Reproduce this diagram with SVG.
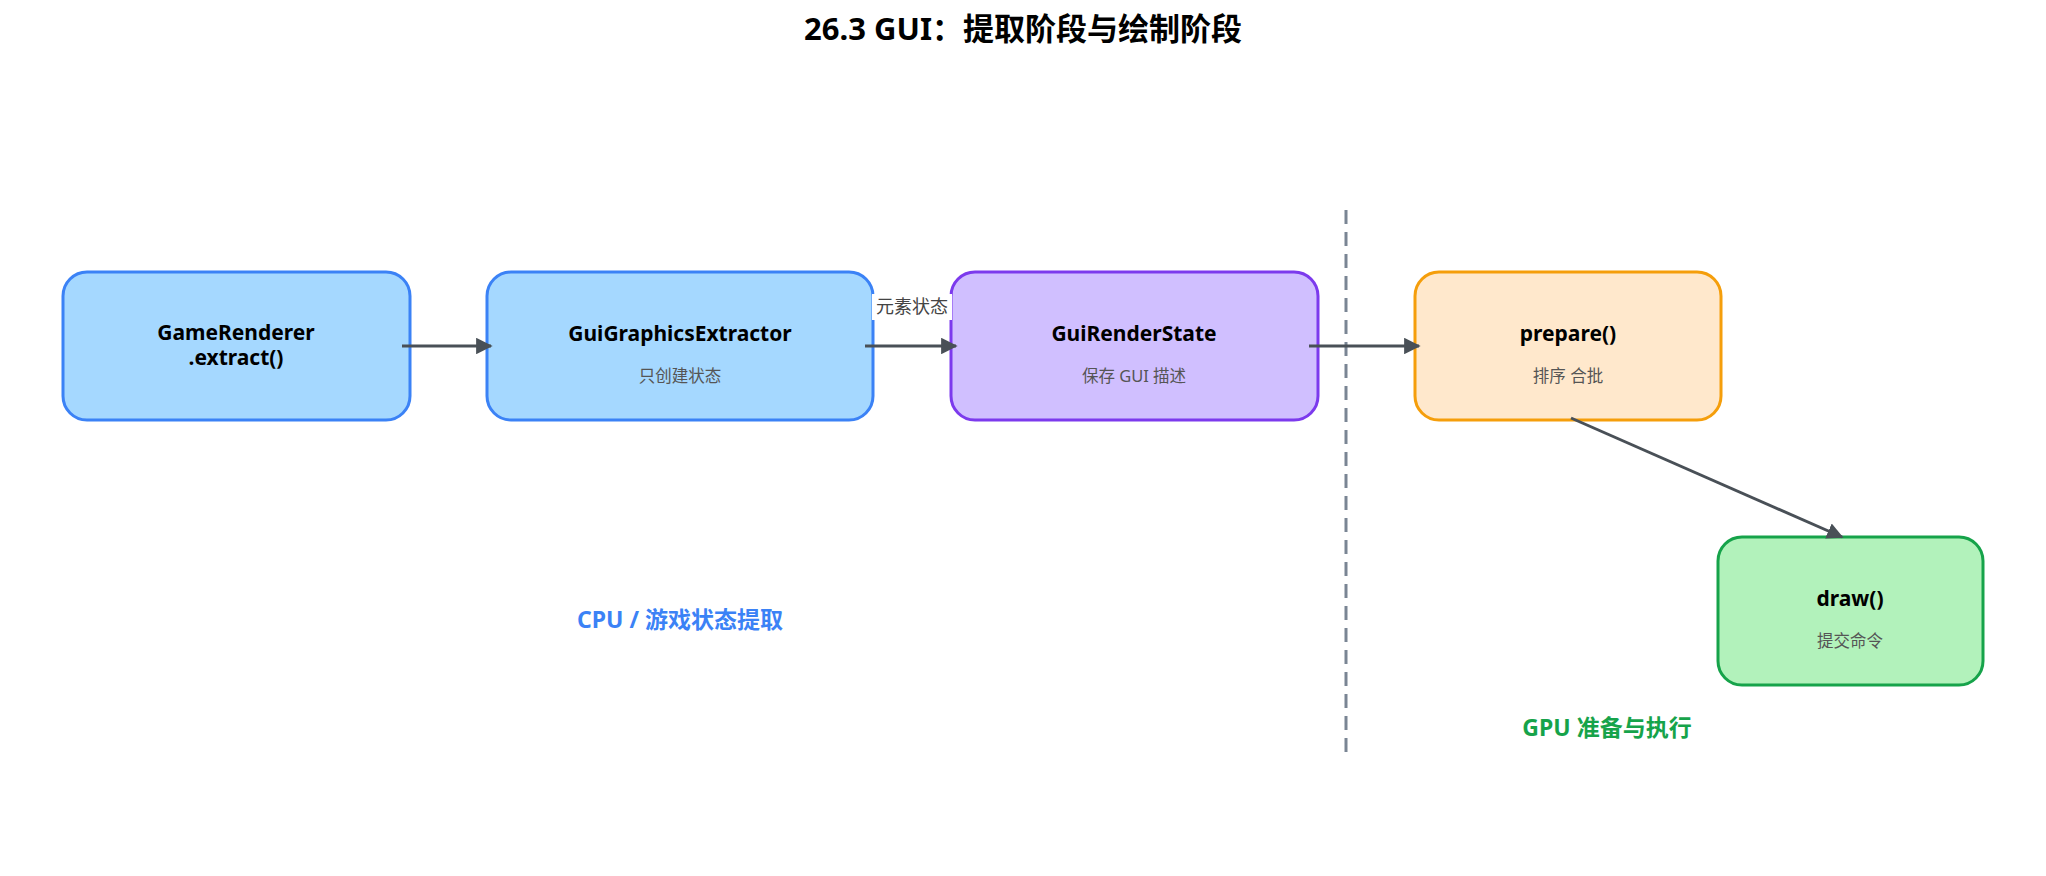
<svg xmlns="http://www.w3.org/2000/svg" width="2046" height="876" viewBox="0 0 2046 876">
<style>
text{font-family:"Noto Sans","Noto Sans CJK SC",sans-serif;text-anchor:middle}
.t{font-size:21px;font-weight:bold;fill:#000}
.s{font-size:16.5px;fill:#555}
.node rect{stroke-width:3}
.conn line{stroke:#495057;stroke-width:3}
</style>
<defs>
<marker id="ah" viewBox="0 0 10 10" refX="9" refY="5" markerWidth="5.5" markerHeight="5.5" orient="auto" markerUnits="strokeWidth">
<path d="M0,0 L10,5 L0,10 z" fill="#495057"/>
</marker>
</defs>
<rect width="2046" height="876" fill="#fff"/>
<text x="1023" y="40" style="font-size:31px;font-weight:bold;fill:#000">26.3 GUI：提取阶段与绘制阶段</text>
<line x1="1346" y1="210" x2="1346" y2="753" stroke="#7a8594" stroke-width="3" stroke-dasharray="14,8"/>
<g id="n1" class="node"><rect x="63" y="272" width="347" height="148" rx="24" fill="#a5d8ff" stroke="#3b82f6"/>
<text class="t" x="236" y="340">GameRenderer</text><text class="t" x="236" y="365">.extract()</text></g>
<g id="n2" class="node"><rect x="487" y="272" width="386" height="148" rx="24" fill="#a5d8ff" stroke="#3b82f6"/>
<text class="t" x="680" y="341">GuiGraphicsExtractor</text><text class="s" x="680" y="382">只创建状态</text></g>
<g id="n3" class="node"><rect x="951" y="272" width="367" height="148" rx="24" fill="#d0bfff" stroke="#7c3aed"/>
<text class="t" x="1134" y="341">GuiRenderState</text><text class="s" x="1134" y="382">保存 GUI 描述</text></g>
<g id="n4" class="node"><rect x="1415" y="272" width="306" height="148" rx="24" fill="#ffe8cc" stroke="#f59e0b"/>
<text class="t" x="1568" y="341">prepare()</text><text class="s" x="1568" y="382">排序 合批</text></g>
<g id="n5" class="node"><rect x="1718" y="537" width="265" height="148" rx="24" fill="#b2f2bb" stroke="#16a34a"/>
<text class="t" x="1850" y="606">draw()</text><text class="s" x="1850" y="647">提交命令</text></g>
<g id="connectors" class="conn">
<line x1="402" y1="346" x2="491" y2="346" marker-end="url(#ah)"/>
<line x1="865" y1="346" x2="956" y2="346" marker-end="url(#ah)"/>
<line x1="1309" y1="346" x2="1419" y2="346" marker-end="url(#ah)"/>
<line x1="1571" y1="418" x2="1842" y2="537" marker-end="url(#ah)"/>
<rect x="872" y="294" width="80" height="26" fill="#fff"/>
<text x="912" y="313" style="font-size:18px;fill:#444">元素状态</text>
</g>
<text x="680" y="628" style="font-size:23px;font-weight:bold;fill:#3b82f6">CPU / 游戏状态提取</text>
<text x="1607" y="736" style="font-size:23px;font-weight:bold;fill:#16a34a">GPU 准备与执行</text>
</svg>
